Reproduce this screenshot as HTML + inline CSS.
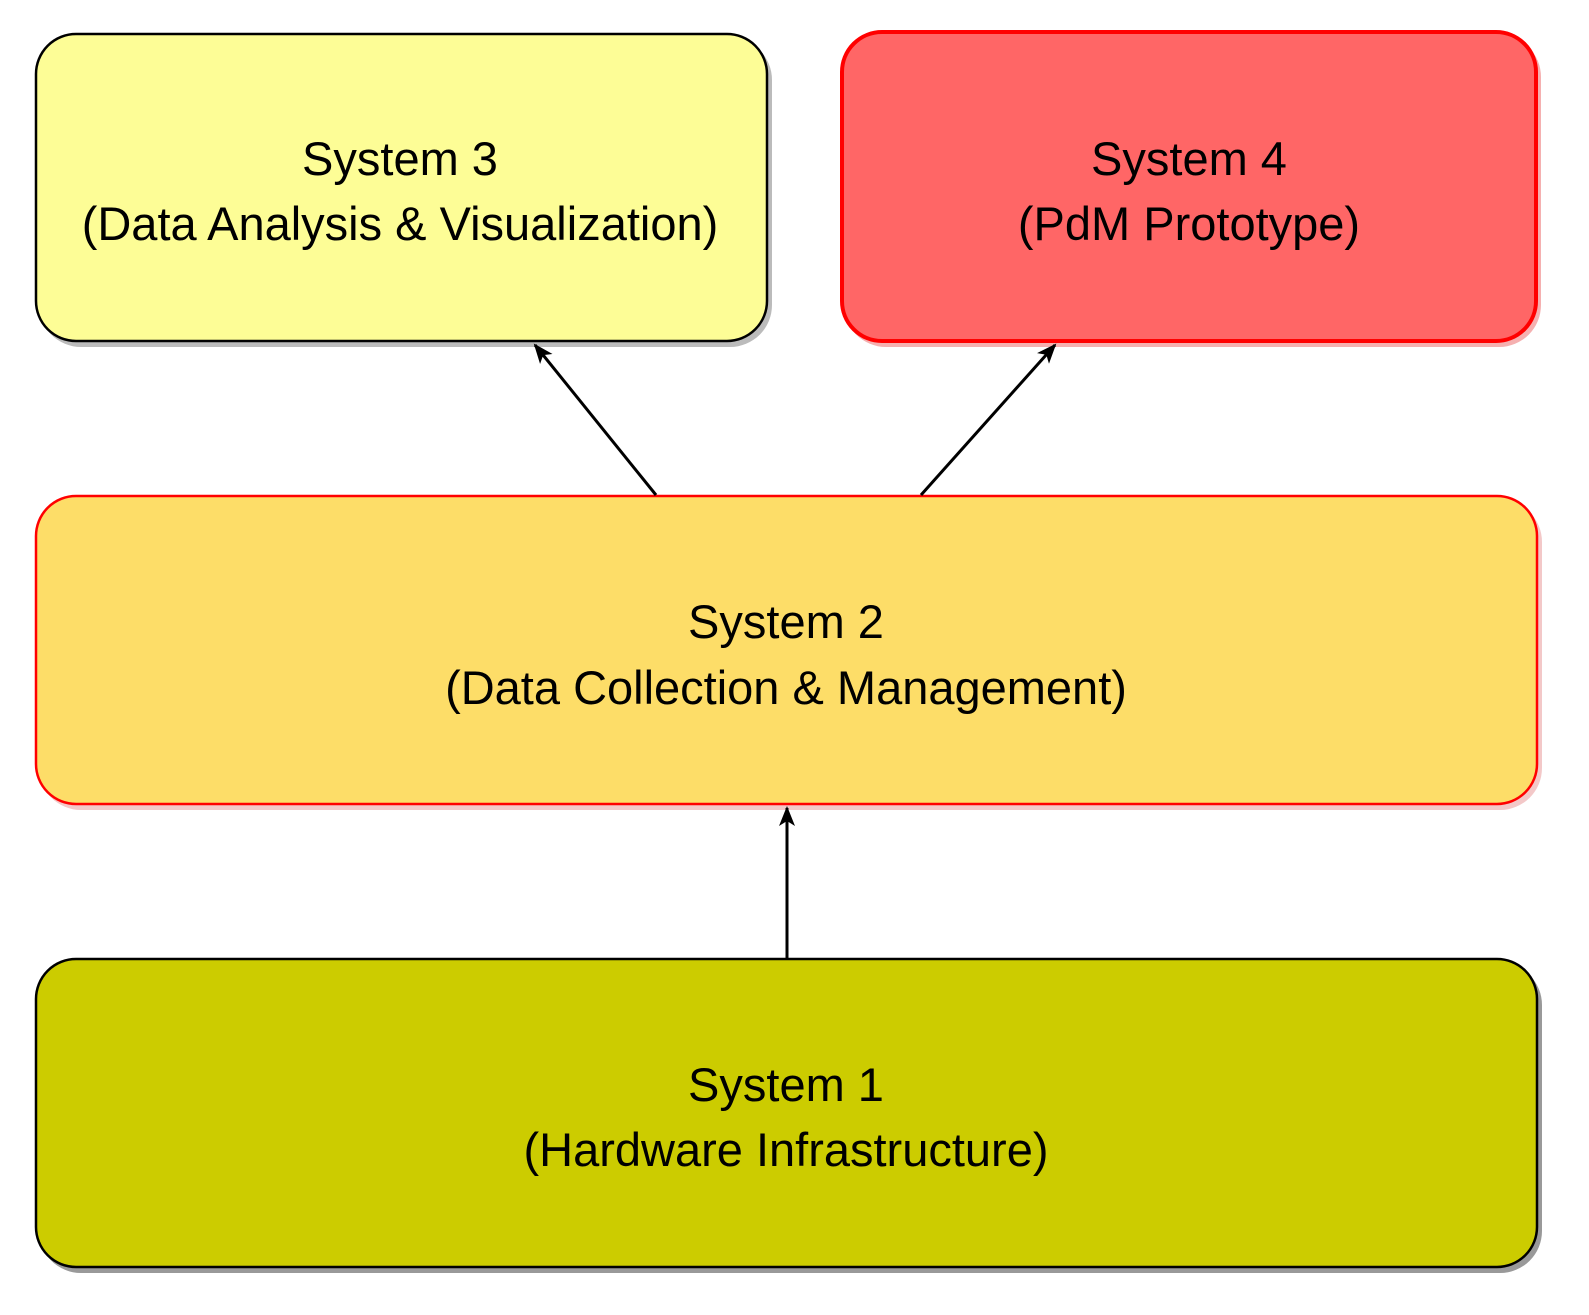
<!DOCTYPE html>
<html><head><meta charset="utf-8"><style>
html,body{margin:0;padding:0;background:#fff;}
svg{display:block;}
text{font-family:"Liberation Sans",Arial,sans-serif;font-size:47px;fill:#000;text-anchor:middle;}
</style></head><body>
<svg width="1589" height="1315" viewBox="0 0 1589 1315" xmlns="http://www.w3.org/2000/svg">
<defs>
<marker id="ah" viewBox="0 0 20 20" refX="18" refY="10" markerWidth="20" markerHeight="20" markerUnits="userSpaceOnUse" orient="auto">
<path d="M0,2 L20,10 L0,18 L5,10 Z" fill="#000"/>
</marker>
</defs>
<!-- shadows -->
<rect x="39" y="38" width="733" height="309" rx="42" fill="#bbb"/>
<rect x="844" y="35" width="697" height="312" rx="42" fill="#f5b0b0"/>
<rect x="39" y="500" width="1503" height="310" rx="42" fill="#f3c8c8"/>
<rect x="39" y="963" width="1503" height="310" rx="42" fill="#999"/>
<!-- boxes -->
<rect x="36" y="34" width="731" height="307" rx="40" fill="#fdfd96" stroke="#000" stroke-width="2.5"/>
<rect x="842" y="32" width="694" height="309" rx="40" fill="#ff6666" stroke="#ff0000" stroke-width="4"/>
<rect x="36" y="496" width="1501" height="308" rx="40" fill="#fddd68" stroke="#ff0000" stroke-width="2.5"/>
<rect x="36" y="959" width="1501" height="308" rx="40" fill="#cccc00" stroke="#000" stroke-width="2.5"/>
<!-- arrows -->
<line x1="656" y1="495" x2="535" y2="345" stroke="#000" stroke-width="3" marker-end="url(#ah)"/>
<line x1="921" y1="495" x2="1055" y2="345" stroke="#000" stroke-width="3" marker-end="url(#ah)"/>
<line x1="787" y1="958" x2="787" y2="808" stroke="#000" stroke-width="3" marker-end="url(#ah)"/>
<!-- labels -->
<text x="400" y="175">System 3</text>
<text x="400" y="240">(Data Analysis &amp; Visualization)</text>
<text x="1189" y="175">System 4</text>
<text x="1189" y="240">(PdM Prototype)</text>
<text x="786" y="638">System 2</text>
<text x="786" y="704">(Data Collection &amp; Management)</text>
<text x="786" y="1101">System 1</text>
<text x="786" y="1166">(Hardware Infrastructure)</text>
</svg>
</body></html>
